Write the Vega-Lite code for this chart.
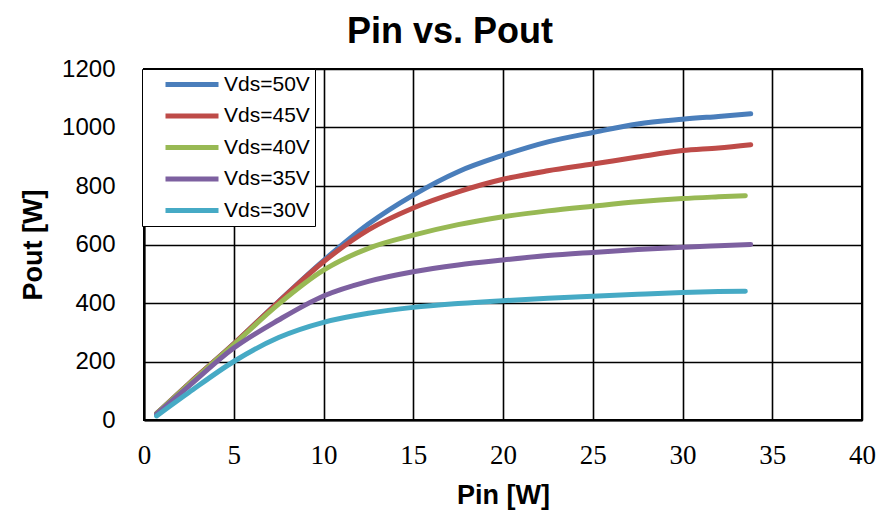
{
  "$schema": "https://vega.github.io/schema/vega-lite/v6.json",
  "width": 718,
  "height": 351,
  "autosize": {"type": "none"},
  "padding": {"left": 144, "top": 69, "right": 19, "bottom": 102},
  "background": "white",
  "title": {"text": "Pin vs. Pout", "font": "Liberation Sans", "fontSize": 36, "fontWeight": "bold", "color": "black", "anchor": "middle", "dx": -53, "offset": 6},
  "config": {
    "view": {"stroke": "black", "strokeWidth": 2},
    "axis": {"gridColor": "black", "gridWidth": 1.6, "gridOpacity": 1, "domainColor": "black", "domainWidth": 2, "ticks": false, "labelColor": "black", "titleColor": "black", "labelFlush": false, "labelOverlap": false}
  },
  "data": {"values": [
    {"pin": 0.7, "pout": 22, "s": "Vds=50V"}, {"pin": 2.5, "pout": 124, "s": "Vds=50V"}, {"pin": 5, "pout": 260, "s": "Vds=50V"}, {"pin": 7.5, "pout": 405, "s": "Vds=50V"}, {"pin": 10, "pout": 545, "s": "Vds=50V"}, {"pin": 12.5, "pout": 670, "s": "Vds=50V"}, {"pin": 15, "pout": 769, "s": "Vds=50V"}, {"pin": 17.5, "pout": 849, "s": "Vds=50V"}, {"pin": 20, "pout": 905, "s": "Vds=50V"}, {"pin": 22.5, "pout": 951, "s": "Vds=50V"}, {"pin": 25, "pout": 983, "s": "Vds=50V"}, {"pin": 27.5, "pout": 1012, "s": "Vds=50V"}, {"pin": 30, "pout": 1028, "s": "Vds=50V"}, {"pin": 32, "pout": 1038, "s": "Vds=50V"}, {"pin": 33.8, "pout": 1047, "s": "Vds=50V"},
    {"pin": 0.7, "pout": 22, "s": "Vds=45V"}, {"pin": 2.5, "pout": 124, "s": "Vds=45V"}, {"pin": 5, "pout": 260, "s": "Vds=45V"}, {"pin": 7.5, "pout": 404, "s": "Vds=45V"}, {"pin": 10, "pout": 541, "s": "Vds=45V"}, {"pin": 12.5, "pout": 650, "s": "Vds=45V"}, {"pin": 15, "pout": 725, "s": "Vds=45V"}, {"pin": 17.5, "pout": 780, "s": "Vds=45V"}, {"pin": 20, "pout": 823, "s": "Vds=45V"}, {"pin": 22.5, "pout": 852, "s": "Vds=45V"}, {"pin": 25, "pout": 875, "s": "Vds=45V"}, {"pin": 27.5, "pout": 899, "s": "Vds=45V"}, {"pin": 30, "pout": 921, "s": "Vds=45V"}, {"pin": 32, "pout": 930, "s": "Vds=45V"}, {"pin": 33.8, "pout": 941, "s": "Vds=45V"},
    {"pin": 0.7, "pout": 22, "s": "Vds=40V"}, {"pin": 2.5, "pout": 122, "s": "Vds=40V"}, {"pin": 5, "pout": 258, "s": "Vds=40V"}, {"pin": 7.5, "pout": 396, "s": "Vds=40V"}, {"pin": 10, "pout": 512, "s": "Vds=40V"}, {"pin": 12.5, "pout": 587, "s": "Vds=40V"}, {"pin": 15, "pout": 632, "s": "Vds=40V"}, {"pin": 17.5, "pout": 668, "s": "Vds=40V"}, {"pin": 20, "pout": 695, "s": "Vds=40V"}, {"pin": 22.5, "pout": 715, "s": "Vds=40V"}, {"pin": 25, "pout": 731, "s": "Vds=40V"}, {"pin": 27.5, "pout": 746, "s": "Vds=40V"}, {"pin": 30, "pout": 757, "s": "Vds=40V"}, {"pin": 32, "pout": 763, "s": "Vds=40V"}, {"pin": 33.5, "pout": 767, "s": "Vds=40V"},
    {"pin": 0.7, "pout": 20, "s": "Vds=35V"}, {"pin": 2.5, "pout": 116, "s": "Vds=35V"}, {"pin": 5, "pout": 246, "s": "Vds=35V"}, {"pin": 7.5, "pout": 342, "s": "Vds=35V"}, {"pin": 10, "pout": 424, "s": "Vds=35V"}, {"pin": 12.5, "pout": 474, "s": "Vds=35V"}, {"pin": 15, "pout": 507, "s": "Vds=35V"}, {"pin": 17.5, "pout": 530, "s": "Vds=35V"}, {"pin": 20, "pout": 547, "s": "Vds=35V"}, {"pin": 22.5, "pout": 562, "s": "Vds=35V"}, {"pin": 25, "pout": 573, "s": "Vds=35V"}, {"pin": 27.5, "pout": 583, "s": "Vds=35V"}, {"pin": 30, "pout": 591, "s": "Vds=35V"}, {"pin": 32, "pout": 596, "s": "Vds=35V"}, {"pin": 33.8, "pout": 600, "s": "Vds=35V"},
    {"pin": 0.7, "pout": 14, "s": "Vds=30V"}, {"pin": 2.5, "pout": 94, "s": "Vds=30V"}, {"pin": 5, "pout": 200, "s": "Vds=30V"}, {"pin": 7.5, "pout": 282, "s": "Vds=30V"}, {"pin": 10, "pout": 334, "s": "Vds=30V"}, {"pin": 12.5, "pout": 365, "s": "Vds=30V"}, {"pin": 15, "pout": 385, "s": "Vds=30V"}, {"pin": 17.5, "pout": 398, "s": "Vds=30V"}, {"pin": 20, "pout": 408, "s": "Vds=30V"}, {"pin": 22.5, "pout": 416, "s": "Vds=30V"}, {"pin": 25, "pout": 423, "s": "Vds=30V"}, {"pin": 27.5, "pout": 430, "s": "Vds=30V"}, {"pin": 30, "pout": 436, "s": "Vds=30V"}, {"pin": 32, "pout": 439, "s": "Vds=30V"}, {"pin": 33.5, "pout": 440, "s": "Vds=30V"}
  ]},
  "mark": {"type": "line", "strokeWidth": 5, "strokeCap": "round", "interpolate": "monotone"},
  "encoding": {
    "x": {"field": "pin", "type": "quantitative", "scale": {"domain": [0, 40], "nice": false},
      "axis": {"values": [0, 5, 10, 15, 20, 25, 30, 35, 40], "title": "Pin [W]", "titleFont": "Liberation Sans", "titleFontSize": 27, "titleFontWeight": "bold", "titlePadding": 14, "labelFont": "Liberation Serif", "labelFontSize": 27, "labelPadding": 22, "labelFontWeight": "normal"}},
    "y": {"field": "pout", "type": "quantitative", "scale": {"domain": [0, 1200], "nice": false},
      "axis": {"values": [0, 200, 400, 600, 800, 1000, 1200], "format": "d", "title": "Pout [W]", "titleFont": "Liberation Sans", "titleFontSize": 27, "titleFontWeight": "bold", "titlePadding": 14, "labelFont": "Liberation Sans", "labelFontSize": 24, "labelPadding": 29}},
    "color": {"field": "s", "type": "nominal",
      "scale": {"domain": ["Vds=50V", "Vds=45V", "Vds=40V", "Vds=35V", "Vds=30V"], "range": ["#4a7ebb", "#be4b48", "#98b954", "#7d60a0", "#46aac5"]},
      "legend": {"title": null, "orient": "none", "legendX": -2, "legendY": 0, "symbolType": "stroke", "symbolSize": 2809, "symbolStrokeWidth": 5, "clipHeight": 21, "rowPadding": 9.5, "padding": 5, "symbolOffset": 16, "labelOffset": 3, "labelFont": "Liberation Sans", "labelFontSize": 21, "labelColor": "black", "strokeColor": "black", "fillColor": "white"}},
    "order": {"field": "pin", "type": "quantitative"}
  }
}
